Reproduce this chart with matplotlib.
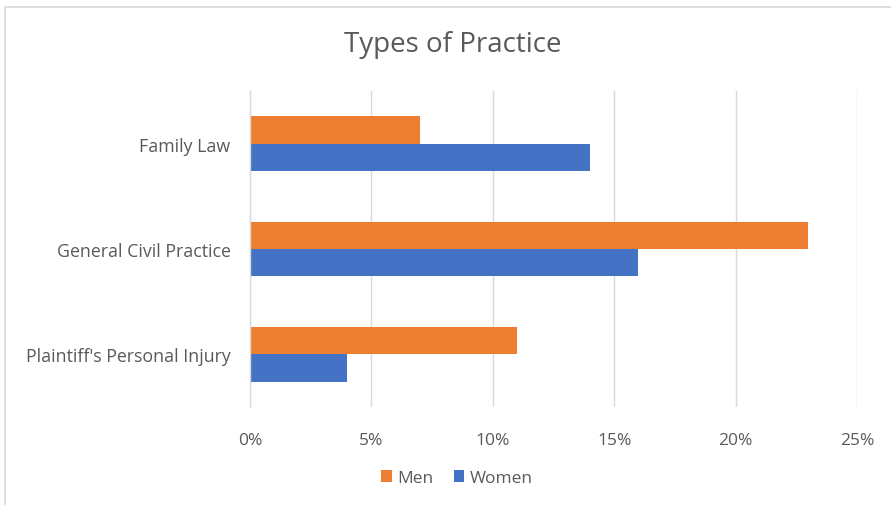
import matplotlib
matplotlib.use("Agg")
import matplotlib.pyplot as plt
import numpy as np
from matplotlib.patches import Rectangle

categories = ["Family Law", "General Civil Practice", "Plaintiff's Personal Injury"]
men = [7, 23, 11]
women = [14, 16, 4]
xticks = [0, 5, 10, 15, 20, 25]
xticklabels = ["0%", "5%", "10%", "15%", "20%", "25%"]

plt.rcParams['font.family'] = ['Open Sans', 'DejaVu Sans']
grey = '#595959'

fig = plt.figure(figsize=(8.91, 5.06), dpi=100)
fig.patch.set_facecolor('white')
fig.patches.append(Rectangle((5/891, -0.1), 2.0, 1 - 8/506 + 0.1, transform=fig.transFigure,
                             fill=False, edgecolor='#d9d9d9', linewidth=1.2))

ax = fig.add_axes([250/891, 1 - 408/506, (857 - 250)/891, (408 - 92)/506])
y = np.arange(len(categories))
h = 0.26
ax.barh(y - h/2, men, height=h, color='#ED7D31', label='Men')
ax.barh(y + h/2, women, height=h, color='#4472C4', label='Women')
ax.set_ylim(2.5, -0.5)
ax.set_xlim(0, 25)
ax.set_xticks(xticks)
ax.set_xticklabels(xticklabels, color=grey, fontsize=12.5)
ax.set_yticks(y)
ax.set_yticklabels(categories, color=grey, fontsize=12.8)
ax.tick_params(length=0, pad=14)
ax.tick_params(axis='x', pad=18)
ax.xaxis.grid(True, color='#d9d9d9', linewidth=1)
ax.set_axisbelow(True)
for s in ['top', 'right', 'bottom']:
    ax.spines[s].set_visible(False)
ax.spines['left'].set_color('#d9d9d9')
ax.spines['left'].set_linewidth(1)

fig.text(453/891, 1 - 45/506, "Types of Practice", ha='center', va='center',
         fontsize=20, color=grey)
fig.legend(loc='center', bbox_to_anchor=(457/891, 1 - 479/506), ncol=2, frameon=False,
           fontsize=12.5, handlelength=0.6, handleheight=0.7, handletextpad=0.3,
           columnspacing=1.2, labelcolor=grey)

fig.savefig("out.png", dpi=100)
